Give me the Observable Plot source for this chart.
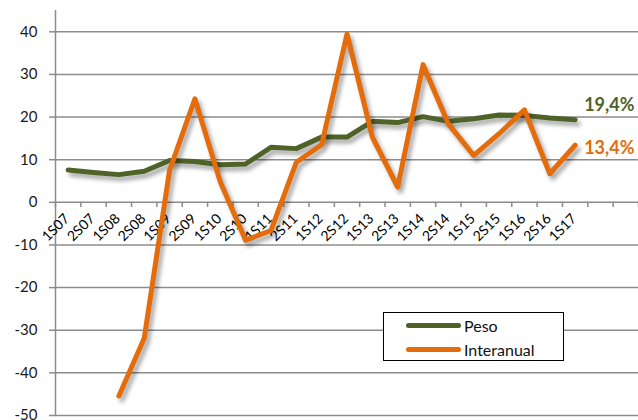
<!DOCTYPE html>
<html>
<head>
<meta charset="utf-8">
<script src="https://cdn.jsdelivr.net/npm/d3@7"></script>
<script src="https://cdn.jsdelivr.net/npm/@observablehq/plot@0.6"></script>
<style>
  html, body { margin: 0; padding: 0; background: #fff; }
  #wrap { position: relative; width: 638px; height: 420px; overflow: hidden; font-family: Lato, "Open Sans", sans-serif; }
  #legend { position: absolute; left: 383px; top: 312px; width: 179px; height: 47px; border: 1.5px solid #000; background: #fff; box-sizing: content-box; }
  .li { position: absolute; left: 0; height: 20px; display: flex; align-items: center; font-size: 16px; color: #111; }
  .sw { width: 55px; height: 5px; border-radius: 3px; margin-left: 22px; margin-right: 3px; }
</style>
</head>
<body>
<div id="wrap"></div>
<script>
const labels = ["1S07","2S07","1S08","2S08","1S09","2S09","1S10","2S10","1S11","2S11","1S12","2S12","1S13","2S13","1S14","2S14","1S15","2S15","1S16","2S16","1S17"];
const peso = [7.6,7.0,6.5,7.3,9.8,9.6,8.8,9.0,12.9,12.6,15.3,15.3,19.0,18.7,20.1,19.0,19.6,20.5,20.4,19.8,19.4];
const interanual = [null,null,-45.4,-31.9,7.5,24.3,4.8,-8.9,-6.6,9.4,13.5,39.5,15.3,3.6,32.3,18.4,11.0,16.1,21.7,6.7,13.4];
const yTicks = [-50,-40,-30,-20,-10,0,10,20,30,40];
const nBands = 23;
const seriesNames = ["Peso","Interanual"];
const colors = ["#4f6228","#e46c0a"];
const endLabels = ["19,4%","13,4%"];

const rows = [];
labels.forEach((l,i) => {
  rows.push({i, label:l, serie:"Peso", v:peso[i]});
  rows.push({i, label:l, serie:"Interanual", v:interanual[i]});
});
const boundaries = d3.range(nBands + 1).map(k => k - 0.5);
const last = labels.length - 1;
const ends = [
  {i:last, v:peso[last], text:endLabels[0], serie:"Peso"},
  {i:last, v:interanual[last], text:endLabels[1], serie:"Interanual"}
];

const chart = Plot.plot({
  width: 638,
  height: 420,
  marginLeft: 55,
  marginRight: 0,
  marginTop: 10,
  marginBottom: 5,
  style: {fontFamily: "Lato, 'Open Sans', sans-serif", background: "transparent", overflow: "visible"},
  x: {type: "linear", domain: [-0.5, nBands - 0.5], axis: null},
  y: {domain: [-50, 45], axis: null},
  marks: [
    Plot.gridY(yTicks, {stroke: "#8c8c8c", strokeOpacity: 1, strokeWidth: 1.5}),
    Plot.ruleX([-0.5], {stroke: "#8c8c8c", strokeWidth: 1.5}),
    Plot.axisY(yTicks, {label: null, tickSize: 6, tickPadding: 12, fontSize: 15, fill: "#1a1a1a", stroke: "#8c8c8c", strokeWidth: 1.5, tickFormat: d => d}),
    Plot.ruleX(boundaries, {x: d => d, y1: 0, y2: -1.2, stroke: "#8c8c8c", strokeWidth: 1.5}),
    Plot.text(labels, {x: (d,i) => i, y: 0, text: d => d, rotate: -45, textAnchor: "end", dx: -1, dy: 14, fontSize: 14, fill: "#000"}),
    Plot.line(rows.filter(r => r.serie === "Peso"), {x: "i", y: "v", stroke: colors[0], strokeWidth: 5}),
    Plot.line(rows.filter(r => r.serie === "Interanual"), {x: "i", y: "v", stroke: colors[1], strokeWidth: 5}),
    Plot.text(ends.filter(d => d.serie === "Peso"), {x: "i", y: "v", text: "text", fill: colors[0], textAnchor: "start", dx: 9, dy: -14, fontSize: 18, fontWeight: "bold"}),
    Plot.text(ends.filter(d => d.serie === "Interanual"), {x: "i", y: "v", text: "text", fill: colors[1], textAnchor: "start", dx: 9, dy: 3, fontSize: 18, fontWeight: "bold"})
  ]
});
const wrap = document.getElementById("wrap");
wrap.appendChild(chart);
chart.querySelectorAll('g[aria-label="line"] path').forEach(p => {
  p.style.filter = "drop-shadow(3px 4px 2px rgba(0,0,0,0.35))";
});

const legend = document.createElement("div");
legend.id = "legend";
seriesNames.forEach((s, k) => {
  const it = document.createElement("div");
  it.className = "li";
  it.style.top = (2 + k * 24) + "px";
  it.innerHTML = `<div class="sw" style="background:${colors[k]}"></div><span>${s}</span>`;
  legend.appendChild(it);
});
wrap.appendChild(legend);
</script>
</body>
</html>
